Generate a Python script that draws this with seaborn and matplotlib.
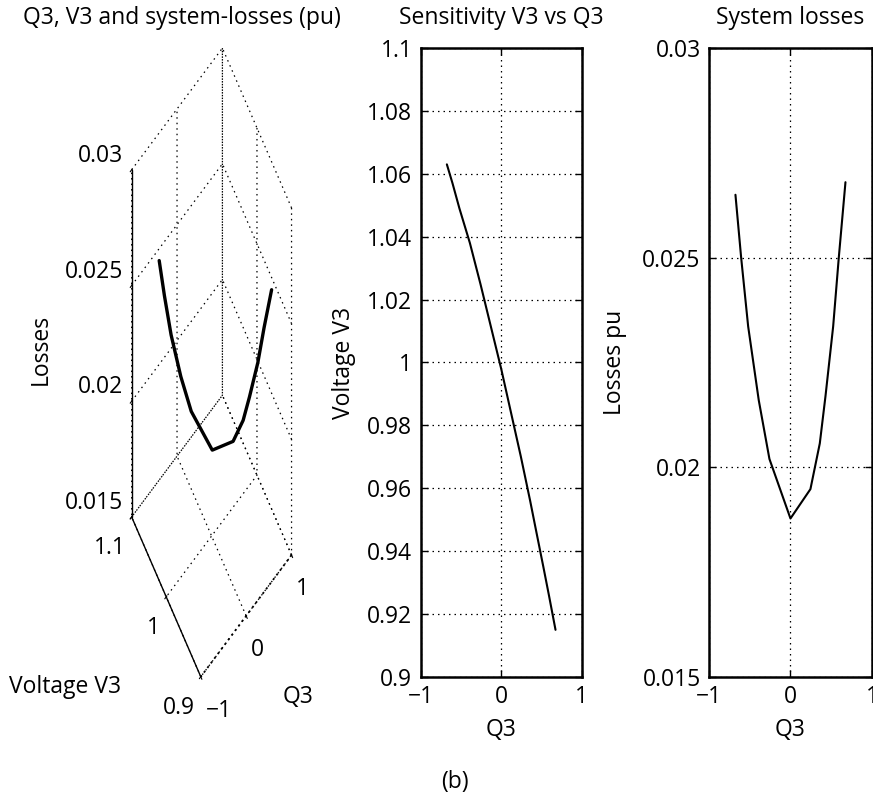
import numpy as np
import pandas as pd
import matplotlib
matplotlib.use("Agg")
import matplotlib.pyplot as plt
import seaborn as sns

# values
q3 = [-0.675, -0.605, -0.519, -0.389, -0.258, 0.0, 0.245, 0.36, 0.43, 0.524, 0.593, 0.675]
v3 = [1.063, 1.057, 1.049, 1.038, 1.025, 0.998, 0.970, 0.956, 0.947, 0.935, 0.926, 0.915]
losses = [0.0265, 0.0250, 0.02336, 0.0216, 0.0202, 0.01878, 0.01948, 0.02057, 0.0217, 0.02336, 0.0250, 0.0268]

q_ticks = [-1, 0, 1]
q_labels = ["\u22121", "0", "1"]
v_ticks = [0.9, 0.92, 0.94, 0.96, 0.98, 1.0, 1.02, 1.04, 1.06, 1.08, 1.1]
v_labels = ["0.9", "0.92", "0.94", "0.96", "0.98", "1", "1.02", "1.04", "1.06", "1.08", "1.1"]
v3d_ticks = [0.9, 1.0, 1.1]
v3d_labels = ["0.9", "1", "1.1"]
loss_ticks = [0.015, 0.02, 0.025, 0.03]
loss_labels = ["0.015", "0.02", "0.025", "0.03"]

df = pd.DataFrame({"Q3": q3, "V3": v3, "Losses": losses})

sns.set_style("ticks", {"grid.linestyle": ":", "grid.color": "k",
                        "axes.edgecolor": "k", "xtick.direction": "in",
                        "ytick.direction": "in"})
plt.rcParams["font.family"] = ["Open Sans", "DejaVu Sans"]
plt.rcParams["font.size"] = 16.5
plt.rcParams["grid.linewidth"] = 0.9
plt.rcParams["text.color"] = "k"
plt.rcParams["axes.labelcolor"] = "k"
plt.rcParams["xtick.color"] = "k"
plt.rcParams["ytick.color"] = "k"

FS = 16.5
dots = (0, (1.2, 3.2))

fig = plt.figure(figsize=(8.73, 7.96), dpi=100)

# --- 3D panel ---
ax3 = fig.add_axes([0.0796, 0.1344, 0.317, 0.799], projection="3d", proj_type="ortho")
ax3.apply_aspect = lambda position=None: None  # stretch to fill the panel, like MATLAB
ax3.set_facecolor("none")
ax3.view_init(elev=50, azim=-127.3)
ax3.set_box_aspect((1, 1, 2.06))
ax3.plot(df["Q3"], df["V3"], df["Losses"], color="k", lw=2.4)
ax3.set_xlim(-1, 1, view_margin=0)
ax3.set_ylim(0.9, 1.1, view_margin=0)
ax3.set_zlim(0.015, 0.03, view_margin=0)
ax3.set_xticks(q_ticks, q_labels)
ax3.set_yticks(v3d_ticks, v3d_labels)
ax3.set_zticks(loss_ticks, loss_labels)
for axis in (ax3.xaxis, ax3.yaxis, ax3.zaxis):
    axis.set_pane_color((1, 1, 1, 0))
    axis.line.set_color("k")
    axis.line.set_linewidth(1.0)
    axis._axinfo["grid"]["linestyle"] = dots
    axis._axinfo["grid"]["linewidth"] = 0.9
ax3.xaxis.line.set_linestyle((0, (1.2, 2.0)))
ax3.xaxis.line.set_linewidth(1.3)
ax3.tick_params(labelsize=FS)
ax3.zaxis.set_tick_params(pad=1)
for t in ax3.zaxis.get_major_ticks():
    t.label1.set_horizontalalignment("right")
    t.label1.set_verticalalignment("bottom")
for t in ax3.yaxis.get_major_ticks():
    t.label1.set_horizontalalignment("right")
    t.label1.set_verticalalignment("center")
for t in ax3.xaxis.get_major_ticks():
    t.label1.set_horizontalalignment("left")
    t.label1.set_verticalalignment("center")
ax3.set_xlabel("")
ax3.set_ylabel("")
ax3.set_zlabel("")
ax3.set_title("Q3, V3 and system-losses (pu)", fontsize=FS, x=0.406, pad=21)
fig.text(0.047, 0.5616, "Losses", rotation=90, ha="center", va="center", fontsize=FS)
fig.text(0.0745, 0.1369, "Voltage V3", ha="center", va="center", fontsize=FS)
fig.text(0.3414, 0.1244, "Q3", ha="center", va="center", fontsize=FS)

# --- sensitivity panel ---
ax1 = fig.add_axes([0.4819, 0.1495, 0.1844, 0.7902])
sns.lineplot(data=df, x="Q3", y="V3", color="k", lw=1.5, ax=ax1)
ax1.set_xlim(-1, 1)
ax1.set_ylim(0.9, 1.1)
ax1.set_xticks(q_ticks, q_labels)
ax1.set_yticks(v_ticks, v_labels)
ax1.set_xlabel("Q3", labelpad=6)
ax1.set_ylabel("Voltage V3", labelpad=8)
ax1.set_title("Sensitivity V3 vs Q3", fontsize=FS, pad=17)

# --- losses panel ---
ax2 = fig.add_axes([0.8121, 0.1495, 0.1867, 0.7902])
sns.lineplot(data=df, x="Q3", y="Losses", color="k", lw=1.5, ax=ax2)
ax2.set_xlim(-1, 1)
ax2.set_ylim(0.015, 0.03)
ax2.set_xticks(q_ticks, q_labels)
ax2.set_yticks(loss_ticks, loss_labels)
ax2.set_xlabel("Q3", labelpad=6)
ax2.set_ylabel("Losses pu", labelpad=11)
ax2.set_title("System losses", fontsize=FS, pad=17)

for ax in (ax1, ax2):
    ax.grid(True, linestyle=dots, color="k", linewidth=0.9)
    for sp in ax.spines.values():
        sp.set_visible(True)
        sp.set_linewidth(1.8)
    ax.tick_params(direction="in", length=5, width=1, top=True, right=True,
                   labelsize=FS, pad=6)

fig.text(0.521, 1 - 782 / 796, "(b)", ha="center", va="center", fontsize=FS)

fig.savefig("out.png", dpi=100)
